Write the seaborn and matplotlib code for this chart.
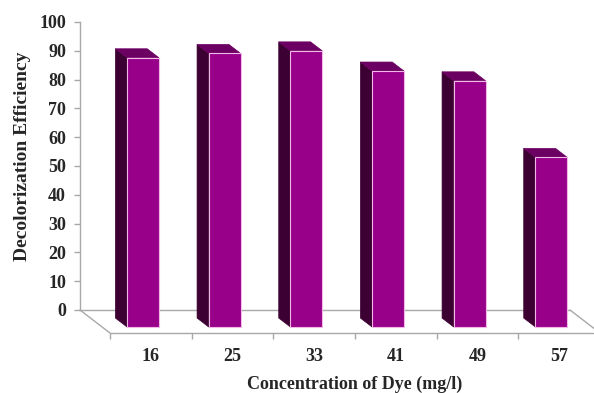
import numpy as np
import pandas as pd
import matplotlib
matplotlib.use("Agg")
import matplotlib.pyplot as plt
from matplotlib.patches import Polygon
import seaborn as sns

# Dye concentration (mg/l) and decolorization efficiency (%)
concentrations = ["16", "25", "33", "41", "49", "57"]
efficiency = [93.5, 95.0, 95.9, 88.9, 85.5, 58.9]

sns.set_theme(style="white")
plt.rcParams["font.family"] = ["Liberation Serif", "DejaVu Serif"]
plt.rcParams["font.weight"] = "bold"

FRONT = "#98008a"
SIDE = "#3c0032"
TOP = "#6c0062"
EDGE = "#f2b8e6"
GRID = "#a8a8a8"

# oblique projection: depth 0 = back wall, 1 = front of floor
DX = 0.367   # horizontal shift per unit depth (category units)
DY = 7.99    # vertical shift per unit depth (value units)
Z_FRONT, Z_BACK = 0.74, 0.35
BAR_W = 0.39

fig = plt.figure(figsize=(5.94, 3.93), dpi=100)
ax = fig.add_axes([80 / 594, (393 - 310) / 393, 490 / 594, 288 / 393])

df = pd.DataFrame({"conc": concentrations, "eff": efficiency})
sns.barplot(data=df, x="conc", y="eff", color=FRONT, width=BAR_W,
            saturation=1, ax=ax, zorder=3)

for i, patch in enumerate(ax.patches):
    x0 = patch.get_x()
    w = patch.get_width()
    v = patch.get_height()
    xf = x0 + Z_FRONT * DX
    xb = x0 + Z_BACK * DX
    yf = -Z_FRONT * DY
    yb = -Z_BACK * DY
    side = Polygon([(xf, yf), (xf, v + yf), (xb, v + yb), (xb, yb)],
                   closed=True, facecolor=SIDE, edgecolor=SIDE, lw=0.5,
                   clip_on=False, zorder=2)
    top = Polygon([(xf, v + yf), (xf + w, v + yf), (xb + w, v + yb), (xb, v + yb)],
                  closed=True, facecolor=TOP, edgecolor=TOP, lw=0.5,
                  clip_on=False, zorder=2)
    ax.add_patch(side)
    ax.add_patch(top)
    patch.set_x(xf)
    patch.set_y(yf)
    patch.set_edgecolor(EDGE)
    patch.set_linewidth(0.8)
    patch.set_clip_on(False)

# floor outline
n = len(concentrations)
left, right = -0.5, n - 0.5
floor_kw = dict(color=GRID, lw=1.0, clip_on=False, zorder=1)
ax.plot([left, right], [0, 0], **floor_kw)
ax.plot([left, left + DX], [0, -DY], **floor_kw)
ax.plot([left + DX, right + DX], [-DY, -DY], **floor_kw)
ax.plot([right, right + DX], [0, -DY], **floor_kw)

ax.set_yticks(np.arange(0, 101, 10))
ax.tick_params(axis="y", which="major", left=True, length=4, width=1,
               color=GRID, pad=6, labelsize=13)

# category ticks on the front floor edge, labels between them
ax.spines["bottom"].set_position(("data", -DY))
ax.spines["bottom"].set_visible(False)
ax.set_xticks(np.arange(n + 1) - 0.5 + DX)
ax.set_xticklabels([])
ax.set_xticks(np.arange(n) + DX, minor=True)
ax.set_xticklabels(concentrations, minor=True)
ax.tick_params(axis="x", which="major", bottom=True, length=4, width=1,
               color=GRID, direction="out")
ax.tick_params(axis="x", which="minor", bottom=False, length=0, pad=11,
               labelsize=13)

ax.set_xlim(left, right)
ax.set_ylim(0, 100)

for s in ["top", "right"]:
    ax.spines[s].set_visible(False)
ax.spines["left"].set_color(GRID)
ax.spines["left"].set_linewidth(1.0)

ax.set_xlabel("Concentration of Dye (mg/l)", fontsize=13, fontweight="bold")
ax.xaxis.set_label_coords(0.561, -0.228)
ax.set_ylabel("Decolorization Efficiency", fontsize=14, fontweight="bold")
ax.yaxis.set_label_coords(-0.1, 0.535)

fig.savefig("out.png", dpi=100, facecolor="white")
